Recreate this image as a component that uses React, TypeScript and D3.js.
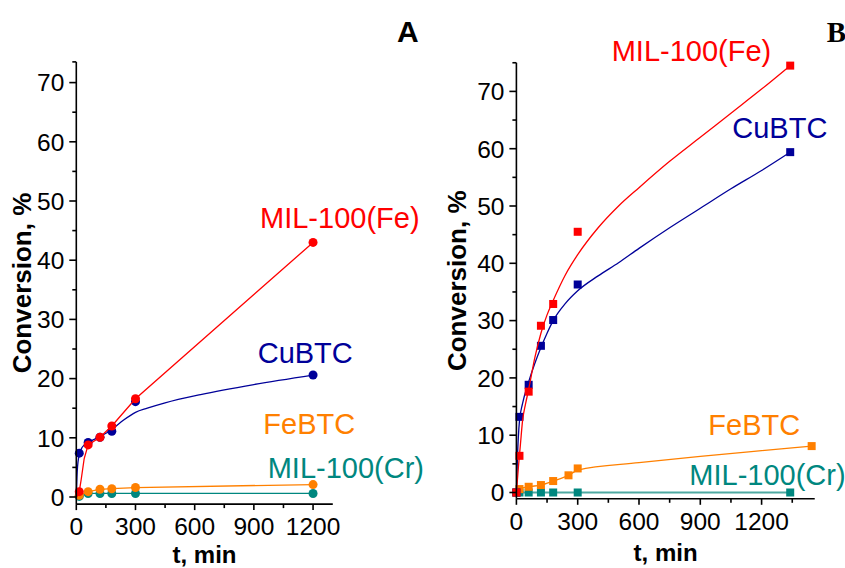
import React from "react";
import * as d3 from "d3";

// ---------- Panel A data (circles) ----------
const tA = [15, 60, 120, 180, 300, 1200];
const aMilFe = [0.9, 8.8, 10.1, 12.0, 16.6, 43.0];
const aCuBTC = [7.4, 9.2, 10.1, 11.1, 16.1, 20.6];
const aFeBTC = [0.3, 0.9, 1.3, 1.4, 1.6, 2.1];
const aMilCr = [0.1, 0.6, 0.6, 0.6, 0.6, 0.6];
// fitted curve for CuBTC in panel A
const aCuFitT = [0, 5, 15, 30, 60, 120, 180, 240, 300, 360, 450, 630, 900, 1200];
const aCuFitV = [0, 4.5, 7.2, 8.4, 9.2, 10.2, 11.4, 13.0, 14.3, 15.0, 15.9, 17.3, 19.0, 20.6];
// MIL-100(Fe) line in panel A
const aFeLineT = [0, 10, 15, 25, 40, 60, 120, 180, 300, 1200];
const aFeLineV = [0, 0.4, 0.9, 3.0, 6.5, 8.8, 10.1, 12.0, 16.6, 43.0];

// ---------- Panel B data (squares) ----------
const tB = [0, 15, 60, 120, 180, 300, 1340];
const bMilFe = [0, 6.4, 17.6, 29.1, 32.9, 45.5, 74.5];
const bCuBTC = [0, 13.2, 18.8, 25.6, 30.1, 36.3, 59.4];
const bMilCr = [0, 0, 0, 0, 0, 0, 0];
const tBFe = [0, 15, 60, 120, 180, 255, 300, 1445];
const bFeBTC = [0, 0.6, 1.0, 1.3, 2.0, 3.0, 4.2, 8.1];
// fitted curves for panel B
const bFeFitT = [0, 10, 20, 30, 45, 60, 90, 120, 150, 180, 240, 300, 400, 500, 600, 750, 900, 1050, 1200, 1340];
const bFeFitV = [0, 4.5, 8.5, 12.5, 15.5, 18.0, 23.5, 27.8, 31.0, 33.5, 38.0, 41.5, 46.2, 50.0, 53.2, 57.8, 62.0, 66.2, 70.4, 74.5];
const bCuFitT = [0, 5, 15, 30, 60, 90, 120, 150, 180, 240, 300, 400, 500, 600, 750, 900, 1050, 1200, 1340];
const bCuFitV = [0, 6.0, 12.5, 15.5, 19.3, 22.5, 25.3, 27.8, 30.0, 33.0, 35.2, 37.8, 40.1, 42.6, 46.2, 49.6, 53.0, 56.2, 59.4];
const bFeBTCLineT = [0, 15, 60, 120, 180, 255, 300, 600, 900, 1200, 1445];
const bFeBTCLineV = [0, 0.6, 1.0, 1.3, 2.0, 3.0, 3.9, 5.2, 6.3, 7.3, 8.1];

const xMajor = [0, 300, 600, 900, 1200];
const yMajor = [0, 10, 20, 30, 40, 50, 60, 70];

const RED = "#ff0000";
const NAVY = "#000099";
const ORANGE = "#ff8000";
const TEAL = "#00877f";
const FONT = "'Liberation Sans', Arial, sans-serif";

type Series = {
  name: string;
  color: string;
  lineColor?: string;
  lineWidth?: number;
  t: number[];
  v: number[];
  lt?: number[];
  lv?: number[];
  curve: "linear" | "monotone";
  label: [number, number];
};

type PanelProps = {
  xr: [number, number];
  yr: [number, number];
  xMax: number;
  yMin: number;
  yMax: number;
  marker: "circle" | "square";
  series: Series[];
  yTitleX: number;
  xTitleY: number;
};

function Panel(p: PanelProps) {
  const x = d3.scaleLinear().domain([0, 300]).range(p.xr);
  const y = d3.scaleLinear().domain([0, 70]).range(p.yr);
  const x0 = x(0), x1 = x(p.xMax);
  const yb = y(p.yMin), yt = y(p.yMax);
  const minorX = d3.range(150, p.xMax, 300);
  const minorY = d3.range(5, p.yMax, 10);
  return (
    <g>
      {p.series.map((s) => {
        const lt = s.lt ?? [0, ...s.t.filter((d) => d > 0)];
        const lv = s.lv ?? [0, ...s.v.filter((_, i) => s.t[i] > 0)];
        const pts = lt.map((t, i) => [x(t), y(lv[i])] as [number, number]);
        const line = d3
          .line()
          .curve(s.curve === "monotone" ? d3.curveMonotoneX : d3.curveLinear)(pts);
        return (
          <g key={s.name}>
            <path d={line ?? ""} fill="none" stroke={s.lineColor ?? s.color} strokeWidth={s.lineWidth ?? 1.3} />
            {s.t.map((t, i) =>
              p.marker === "circle" ? (
                <circle key={i} cx={x(t)} cy={y(s.v[i])} r={4.5} fill={s.color} />
              ) : (
                <rect key={i} x={x(t) - 4} y={y(s.v[i]) - 4} width={8} height={8} fill={s.color} />
              )
            )}
            <text x={s.label[0]} y={s.label[1]} fill={s.color} fontSize={29} fontFamily={FONT}>
              {s.name}
            </text>
          </g>
        );
      })}
      <g stroke="#000" strokeWidth={1.6} fill="none">
        <line x1={x0} x2={x0} y1={yb} y2={yt} />
        <line x1={x0} x2={x1} y1={yb} y2={yb} />
        <line x1={x0 - 4} x2={x0} y1={yt} y2={yt} />
        {yMajor.map((v) => (
          <line key={"ym" + v} x1={x0 - 7} x2={x0} y1={y(v)} y2={y(v)} />
        ))}
        {minorY.map((v) => (
          <line key={"yn" + v} x1={x0 - 4} x2={x0} y1={y(v)} y2={y(v)} />
        ))}
        {xMajor.map((t) => (
          <line key={"xm" + t} x1={x(t)} x2={x(t)} y1={yb} y2={yb + 6} />
        ))}
        {minorX.map((t) => (
          <line key={"xn" + t} x1={x(t)} x2={x(t)} y1={yb} y2={yb + 4} />
        ))}
      </g>
      <g fontFamily={FONT} fontSize={24.5} fill="#000">
        {yMajor.map((v) => (
          <text key={"yl" + v} x={x0 - 12} y={y(v)} dy="0.36em" textAnchor="end">
            {v}
          </text>
        ))}
        {xMajor.map((t) => (
          <text key={"xl" + t} x={x(t)} y={yb + 31} textAnchor="middle">
            {t}
          </text>
        ))}
      </g>
      <text
        x={(x0 + x1) / 2}
        y={p.xTitleY}
        textAnchor="middle"
        fontFamily={FONT}
        fontWeight="bold"
        fontSize={24}
      >
        t, min
      </text>
      <text
        transform={`translate(${p.yTitleX},${(yb + yt) / 2}) rotate(-90)`}
        textAnchor="middle"
        fontFamily={FONT}
        fontWeight="bold"
        fontSize={26}
      >
        Conversion, %
      </text>
    </g>
  );
}

export default function App() {
  const seriesA: Series[] = [
    { name: "MIL-100(Cr)", color: TEAL, t: tA, v: aMilCr, curve: "linear", label: [267.7, 477.7] },
    { name: "FeBTC", color: ORANGE, t: tA, v: aFeBTC, curve: "linear", label: [263.3, 433.6] },
    { name: "CuBTC", color: NAVY, t: tA, v: aCuBTC, lt: aCuFitT, lv: aCuFitV, curve: "monotone", label: [257.7, 363] },
    { name: "MIL-100(Fe)", color: RED, t: tA, v: aMilFe, lt: aFeLineT, lv: aFeLineV, curve: "linear", label: [260, 227.5] },
  ];
  const seriesB: Series[] = [
    { name: "MIL-100(Cr)", color: TEAL, lineColor: "#4fa9a2", lineWidth: 2.2, t: tB, v: bMilCr, lt: tB, lv: bMilCr, curve: "linear", label: [689.3, 485] },
    { name: "FeBTC", color: ORANGE, t: tBFe, v: bFeBTC, lt: bFeBTCLineT, lv: bFeBTCLineV, curve: "monotone", label: [708.3, 434.5] },
    { name: "CuBTC", color: NAVY, t: tB, v: bCuBTC, lt: bCuFitT, lv: bCuFitV, curve: "monotone", label: [732.3, 137.7] },
    { name: "MIL-100(Fe)", color: RED, t: tB, v: bMilFe, lt: bFeFitT, lv: bFeFitV, curve: "monotone", label: [611.7, 61] },
  ];
  return (
    <svg
      width={845}
      height={568}
      style={{ position: "absolute", left: 0, top: 0, background: "#fff" }}
    >
      <rect width={845} height={568} fill="#fff" />
      <Panel
        xr={[76.3, 76.3 + 300 * 0.1973]}
        yr={[497, 497 - 70 * 5.92]}
        xMax={1300}
        yMin={-1.2}
        yMax={73.5}
        marker="circle"
        series={seriesA}
        yTitleX={31}
        xTitleY={563}
      />
      <Panel
        xr={[516.4, 577.7]}
        yr={[492.5, 91.4]}
        xMax={1460}
        yMin={-1.1}
        yMax={75}
        marker="square"
        series={seriesB}
        yTitleX={466}
        xTitleY={561}
      />
      <text x={397} y={41.7} fontFamily={FONT} fontWeight="bold" fontSize={30}>
        A
      </text>
      <text x={826.7} y={41.7} fontFamily="'Liberation Serif', 'Times New Roman', serif" fontWeight="bold" fontSize={29}>
        B
      </text>
    </svg>
  );
}
